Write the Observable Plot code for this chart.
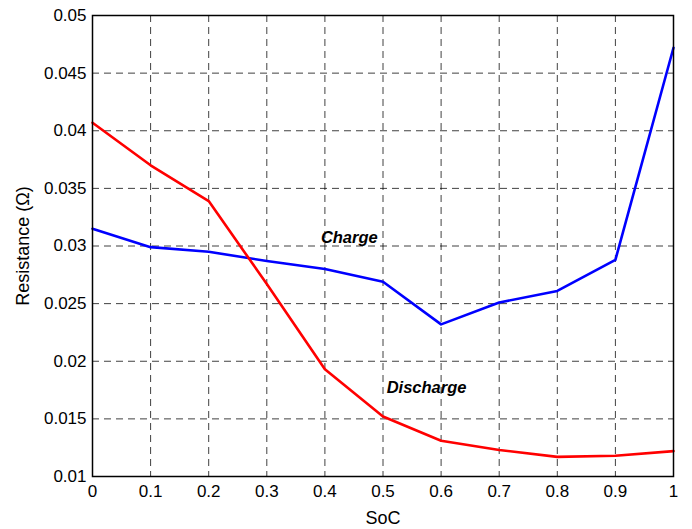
<!DOCTYPE html>
<html>
<head>
<meta charset="utf-8">
<script src="https://cdn.jsdelivr.net/npm/d3@7"></script>
<script src="https://cdn.jsdelivr.net/npm/@observablehq/plot@0.6"></script>
<style>
  body { margin: 0; background: #fff; }
</style>
</head>
<body>
<div id="chart"></div>
<script>
const soc = [0, 0.1, 0.2, 0.3, 0.4, 0.5, 0.6, 0.7, 0.8, 0.9, 1.0];
const charge = [0.0315, 0.0299, 0.0295, 0.0287, 0.0280, 0.0269, 0.0232, 0.0251, 0.0261, 0.0288, 0.0472];
const discharge = [0.0407, 0.0370, 0.0339, 0.0267, 0.0193, 0.0152, 0.0131, 0.0123, 0.0117, 0.0118, 0.0122];
const xTicks = [0, 0.1, 0.2, 0.3, 0.4, 0.5, 0.6, 0.7, 0.8, 0.9, 1];
const yTicks = [0.01, 0.015, 0.02, 0.025, 0.03, 0.035, 0.04, 0.045, 0.05];
const labels = [
  {text: "Charge", x: 0.442, y: 0.0307},
  {text: "Discharge", x: 0.575, y: 0.0177}
];

const chargeData = soc.map((s, i) => ({soc: s, r: charge[i]}));
const dischargeData = soc.map((s, i) => ({soc: s, r: discharge[i]}));
const fmt = d => String(+d.toFixed(3));

const chart = Plot.plot({
  width: 692,
  height: 529,
  marginLeft: 92,
  marginRight: 19,
  marginTop: 15,
  marginBottom: 53,
  style: {fontFamily: "'Liberation Sans', Arial, Helvetica, sans-serif", fontSize: "17px", color: "#000", background: "#fff"},
  x: {domain: [0, 1]},
  y: {domain: [0.01, 0.05]},
  marks: [
    Plot.gridX(xTicks, {stroke: "#000", strokeOpacity: 0.75, strokeDasharray: "7,5", strokeWidth: 1}),
    Plot.gridY(yTicks, {stroke: "#000", strokeOpacity: 0.75, strokeDasharray: "7,5", strokeWidth: 1}),
    Plot.axisX(xTicks, {tickSize: 0, tickPadding: 8, tickFormat: fmt, fontSize: 17, label: null}),
    Plot.axisX({ticks: [], tickSize: 0, label: "SoC", labelAnchor: "center", labelArrow: "none", labelOffset: 47, fontSize: 18}),
    Plot.axisY(yTicks, {tickSize: 0, tickPadding: 6, tickFormat: fmt, fontSize: 17, label: null}),
    Plot.axisY({ticks: [], tickSize: 0, label: "Resistance (Ω)", labelAnchor: "center", labelArrow: "none", labelOffset: 76, fontSize: 18}),
    Plot.line(chargeData, {x: "soc", y: "r", stroke: "#0000ff", strokeWidth: 2.6}),
    Plot.line(dischargeData, {x: "soc", y: "r", stroke: "#ff0000", strokeWidth: 2.6}),
    Plot.text(labels, {x: "x", y: "y", text: "text", fontWeight: "bold", fontStyle: "italic", fontSize: 16.5, fill: "#000"}),
    Plot.frame({stroke: "#000", strokeWidth: 1.5})
  ]
});
document.getElementById("chart").appendChild(chart);
</script>
</body>
</html>
